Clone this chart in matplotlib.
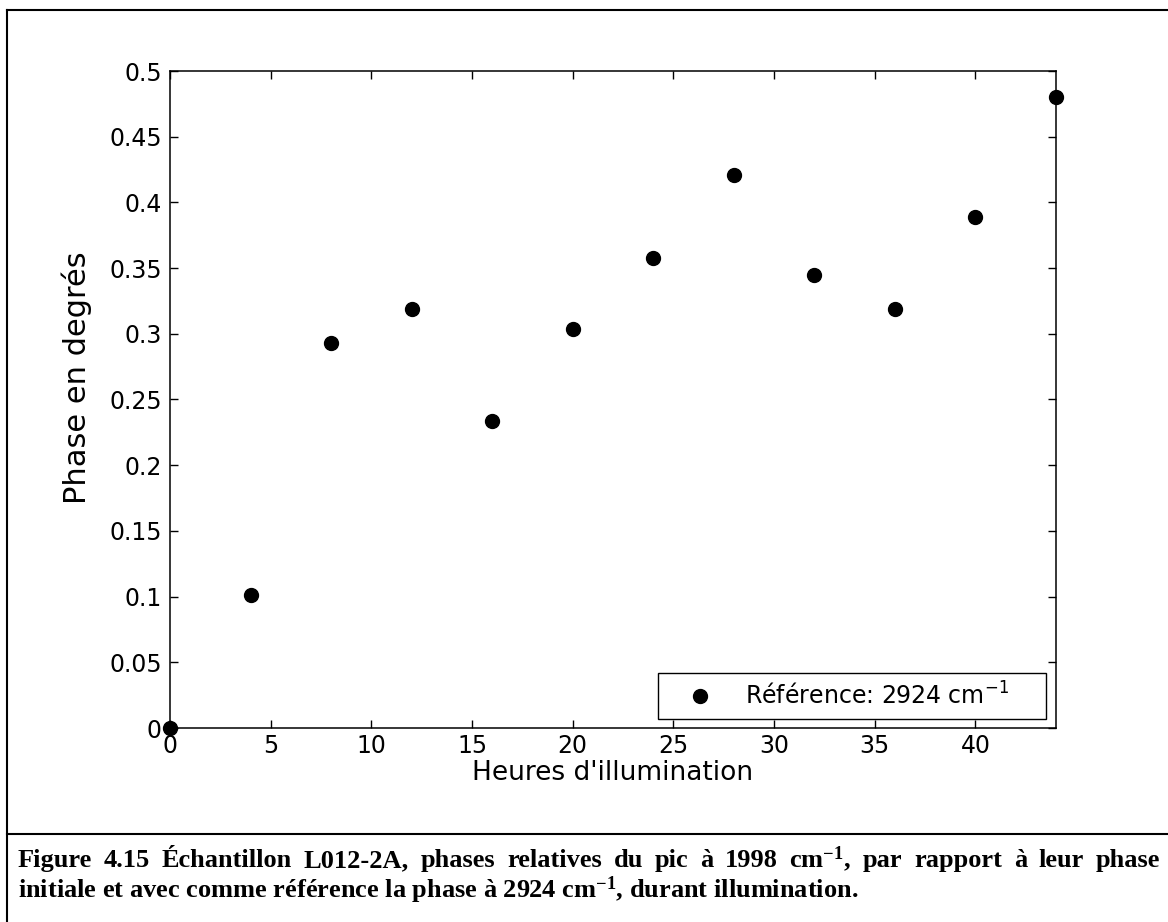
import matplotlib
matplotlib.use('Agg')
import matplotlib.pyplot as plt
from matplotlib.lines import Line2D
from matplotlib.ticker import FuncFormatter, MultipleLocator

# heures d'illumination et phase relative (degres)
heures = [0, 4, 8, 12, 16, 20, 24, 28, 32, 36, 40, 44]
phase = [0.0, 0.101, 0.293, 0.319, 0.234, 0.304, 0.358, 0.421, 0.345, 0.319, 0.389, 0.480]

XLAB = "Heures d'illumination"
YLAB = 'Phase en degrés'
LEG = r'Référence: 2924 cm$^{-1}$'
CAP1 = [r'Figure', '4.15', 'Échantillon', 'L012-2A,', 'phases', 'relatives', 'du', 'pic', 'à',
        '1998', r'cm$^{-1}$,', 'par', 'rapport', 'à', 'leur', 'phase']
CAP2 = r'initiale et avec comme référence la phase à 2924 cm$^{-1}$, durant illumination.'

W, H = 1168, 922

plt.rcParams['mathtext.fontset'] = 'dejavusans'
plt.rcParams['mathtext.rm'] = 'Liberation Serif:bold'
plt.rcParams['mathtext.bf'] = 'Liberation Serif:bold'
plt.rcParams['mathtext.it'] = 'Liberation Serif:bold'


def px(x, y):
   return x / W, 1 - y / H


def main():
   fig = plt.figure(figsize=(W / 100, H / 100), dpi=100)
   ax = fig.add_axes([170 / W, 1 - 728 / H, 886 / W, 657 / H])

   ax.plot(heures, phase, 'o', color='k', ms=10, clip_on=False, zorder=5, label=LEG)
   ax.set_xlim(0, 44)
   ax.set_ylim(0, 0.5)
   ax.xaxis.set_major_locator(MultipleLocator(5))
   ax.yaxis.set_major_locator(MultipleLocator(0.05))
   ax.yaxis.set_major_formatter(FuncFormatter(lambda v, p: '%g' % round(v, 3)))
   ax.tick_params(direction='in', top=True, right=True, length=6, width=1, labelsize=17)
   ax.tick_params(axis='x', pad=4)
   ax.tick_params(axis='y', pad=6)
   for s in ax.spines.values():
      s.set_linewidth(1.1)

   ax.set_xlabel(XLAB, fontsize=19, labelpad=2)
   ax.set_ylabel(YLAB, fontsize=22)
   ax.yaxis.set_label_coords(-0.088, 0.533)

   # boite de legende placee comme dans l'original
   leg = ax.legend(loc='lower left', bbox_to_anchor=(0.5508, 0.0137, 0.4379, 0.07),
                   mode='expand', borderaxespad=0,
                   fontsize=17, fancybox=False, framealpha=1, edgecolor='k',
                   borderpad=0.4, handlelength=2.76, handletextpad=0.52, numpoints=1)
   leg.get_frame().set_linewidth(1.0)

   # cadre autour de la figure et de la legende
   fig.add_artist(Line2D([7 / W, 7 / W], [1 - 10 / H, 0], color='k', lw=1.5))
   fig.add_artist(Line2D([7 / W, 1], [1 - 10 / H, 1 - 10 / H], color='k', lw=1.5))
   fig.add_artist(Line2D([7 / W, 1], [1 - 834 / H, 1 - 834 / H], color='k', lw=1.5))

   # legende de la figure, premiere ligne justifiee
   cap_kw = dict(fontsize=19, fontfamily='Liberation Serif', fontweight='bold',
                 math_fontfamily='custom', va='baseline', ha='left')
   r = fig.canvas.get_renderer()
   y1 = px(0, 867)[1]
   ts = [fig.text(0, y1, w, **cap_kw) for w in CAP1]
   widths = [t.get_window_extent(r).width for t in ts]
   x0, x1 = 18, 1160
   gap = (x1 - x0 - sum(widths)) / (len(CAP1) - 1)
   x = x0
   for t, w in zip(ts, widths):
      t.set_x(x / W)
      x += w + gap
   fig.text(x0 / W, px(0, 898)[1], CAP2, **cap_kw)

   fig.savefig('out.png', dpi=100)


if __name__ == '__main__':
   main()
